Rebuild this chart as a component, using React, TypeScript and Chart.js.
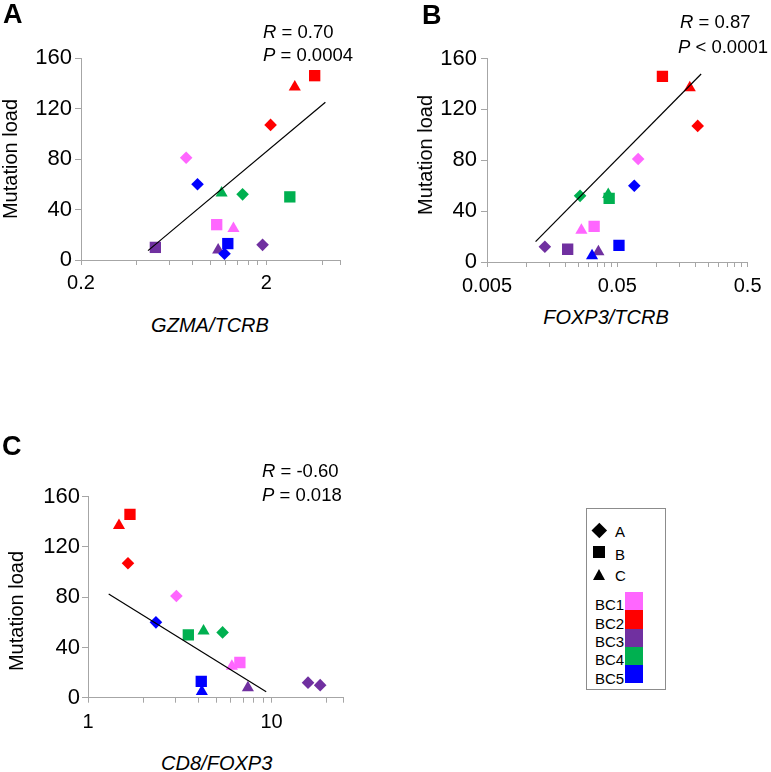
import React, { useEffect, useRef } from 'react';
import { Chart, registerables } from 'chart.js';

Chart.register(...registerables);

// ---------------- DATA ----------------
const groups = ['BC1', 'BC2', 'BC3', 'BC4', 'BC5'];
const subtypes = ['A', 'B', 'C'];
// sample order: BC1-A, BC1-B, BC1-C, BC2-A, ... BC5-C
const sampleGroup = [0, 0, 0, 1, 1, 1, 2, 2, 2, 3, 3, 3, 4, 4, 4];
const sampleSubtype = ['A', 'B', 'C', 'A', 'B', 'C', 'A', 'B', 'C', 'A', 'B', 'C', 'A', 'B', 'C'];
const mutationLoad = [81, 28, 25, 107, 146, 137, 12, 10, 8, 52, 50, 53, 60, 13, 5];

const gzmaTcrb = [0.739, 1.08, 1.33, 2.11, 3.65, 2.85, 1.91, 0.504, 1.1, 1.49, 2.68, 1.148, 0.851, 1.24, 1.19];
const foxp3Tcrb = [0.0723, 0.0332, 0.0265, 0.207, 0.111, 0.18, 0.0139, 0.0208, 0.0358, 0.0259, 0.0433, 0.0426, 0.0675, 0.0515, 0.032];
const cd8Foxp3 = [3.03, 6.72, 6.08, 1.651, 1.693, 1.475, 15.8, 18.4, 7.43, 5.41, 3.52, 4.26, 2.345, 4.14, 4.17];

// symbol category actually drawn for each sample in each panel (as in the figure)
const symbolsA = ['A', 'B', 'C', 'A', 'B', 'C', 'A', 'B', 'C', 'A', 'B', 'C', 'A', 'B', 'A'];
const symbolsB = sampleSubtype;
const symbolsC = ['A', 'B', 'C', 'A', 'B', 'C', 'A', 'A', 'C', 'A', 'B', 'C', 'A', 'B', 'C'];

// trend lines (end points)
const trendAx = [0.46, 4.17];
const trendAy = [7.4, 125];
const trendBx = [0.0118, 0.22];
const trendBy = [16, 147.8];
const trendCx = [1.296, 9.35];
const trendCy = [82.5, 4.8];

// axes
const yTicks = [0, 40, 80, 120, 160];
const xMajorA = [0.2, 2];
const xLabelsA = ['0.2', '2'];
const xRangeA = [0.2, 5];
const xMajorB = [0.005, 0.05, 0.5];
const xLabelsB = ['0.005', '0.05', '0.5'];
const xRangeB = [0.005, 0.5];
const xMajorC = [1, 10];
const xLabelsC = ['1', '10'];
const xRangeC = [1, 24.5];

const xTitles = ['GZMA/TCRB', 'FOXP3/TCRB', 'CD8/FOXP3'];
const yTitle = 'Mutation load';
const panelLetters = ['A', 'B', 'C'];
const rTexts = ['= 0.70', '= 0.87', '= -0.60'];
const pTexts = ['= 0.0004', '< 0.0001', '= 0.018'];

// ---------------- STYLE ----------------
const FONT = '"Liberation Sans", Arial, Helvetica, sans-serif';
const groupColors = ['#FF66FF', '#FF0000', '#7030A0', '#00B050', '#0000FF'];
const styleOf: Record<string, string> = { A: 'rectRot', B: 'rect', C: 'triangle' };
const radiusOf: Record<string, number> = { A: 6.3, B: 8, C: 7 };
const AXIS = '#a6a6a6';

function logTicks(range: number[], majors: number[]) {
  const out: number[] = [];
  for (const m of majors) {
    for (let k = 1; k <= 9; k++) {
      const v = +(m * k).toPrecision(6);
      if (v >= range[0] - 1e-12 && v <= range[1] + 1e-12) out.push(v);
    }
  }
  if (!out.some((v) => Math.abs(v - range[1]) / range[1] < 1e-6)) out.push(range[1]);
  return out;
}

type Panel = {
  x: number[];
  symbols: string[];
  tx: number[];
  ty: number[];
  range: number[];
  majors: number[];
  labels: string[];
  width: number;
  height: number;
  left: number;
  top: number;
  padTop: number;
  padRight: number;
  yWidth: number;
  xHeight: number;
  yPad: number;
  xPad: number;
};

function ScatterPanel({ p }: { p: Panel }) {
  const ref = useRef<HTMLCanvasElement | null>(null);
  useEffect(() => {
    if (!ref.current) return;
    const pts = p.x.map((x, i) => ({ x, y: mutationLoad[i] }));
    const colors = sampleGroup.map((g) => groupColors[g]);
    const tickVals = logTicks(p.range, p.majors);
    const chart = new Chart(ref.current, {
      type: 'scatter',
      data: {
        datasets: [
          {
            data: p.tx.map((x, i) => ({ x, y: p.ty[i] })),
            showLine: true,
            borderColor: '#000',
            borderWidth: 1.2,
            pointRadius: 0,
            fill: false,
          } as any,
          {
            data: pts,
            pointStyle: p.symbols.map((s) => styleOf[s]),
            pointRadius: p.symbols.map((s) => radiusOf[s]),
            pointBackgroundColor: colors,
            pointBorderColor: colors,
            pointBorderWidth: 0,
            backgroundColor: colors,
            borderColor: colors,
            borderWidth: 0,
          } as any,
        ],
      },
      options: {
        animation: false,
        responsive: false,
        maintainAspectRatio: false,
        events: [],
        plugins: { legend: { display: false }, tooltip: { enabled: false } },
        layout: { padding: { left: 0, top: p.padTop, right: p.padRight, bottom: 0 } },
        scales: {
          x: {
            type: 'logarithmic',
            min: p.range[0],
            max: p.range[1],
            afterBuildTicks: (s: any) => {
              s.ticks = tickVals.map((v) => ({ value: v }));
            },
            afterFit: (s: any) => {
              s.height = p.xHeight;
            },
            ticks: {
              autoSkip: false,
              maxRotation: 0,
              minRotation: 0,
              padding: p.xPad,
              color: '#000',
              font: { size: 20, family: FONT, lineHeight: 1 },
              callback: (v: any) => {
                const idx = p.majors.findIndex((m) => Math.abs(m - Number(v)) / m < 1e-6);
                return idx >= 0 ? p.labels[idx] : '';
              },
            },
            grid: { drawOnChartArea: false, drawTicks: true, tickLength: 5, tickColor: AXIS, tickWidth: 1 },
            border: { display: true, color: AXIS, width: 1 },
          },
          y: {
            type: 'linear',
            min: yTicks[0],
            max: yTicks[yTicks.length - 1],
            afterBuildTicks: (s: any) => {
              s.ticks = yTicks.map((v) => ({ value: v }));
            },
            afterFit: (s: any) => {
              s.width = p.yWidth;
            },
            ticks: {
              padding: p.yPad,
              color: '#000',
              font: { size: 22, family: FONT, lineHeight: 1 },
            },
            grid: { drawOnChartArea: false, drawTicks: true, tickLength: 6, tickColor: AXIS, tickWidth: 1 },
            border: { display: true, color: AXIS, width: 1 },
          },
        },
      } as any,
    });
    return () => chart.destroy();
  }, []);
  return (
    <canvas
      ref={ref}
      width={p.width}
      height={p.height}
      style={{ position: 'absolute', left: p.left, top: p.top, width: p.width, height: p.height }}
    />
  );
}

function Txt({ x, y, size, children, italic, bold, center }: any) {
  return (
    <div
      style={{
        position: 'absolute',
        left: x,
        top: y - 0.8465 * size,
        fontSize: size,
        lineHeight: `${size}px`,
        fontFamily: FONT,
        fontStyle: italic ? 'italic' : 'normal',
        fontWeight: bold ? 'bold' : 'normal',
        whiteSpace: 'nowrap',
        color: '#000',
        transform: center ? 'translateX(-50%)' : undefined,
      }}
    >
      {children}
    </div>
  );
}

function VTxt({ cx, cy, size, children }: any) {
  return (
    <div
      style={{
        position: 'absolute',
        left: cx,
        top: cy,
        fontSize: size,
        lineHeight: `${size}px`,
        fontFamily: FONT,
        whiteSpace: 'nowrap',
        color: '#000',
        transform: 'translate(-50%,-50%) rotate(-90deg)',
      }}
    >
      {children}
    </div>
  );
}

const panelA: Panel = {
  x: gzmaTcrb, symbols: symbolsA, tx: trendAx, ty: trendAy, range: xRangeA, majors: xMajorA, labels: xLabelsA,
  left: 0, top: 0, width: 380, height: 300, padTop: 58, padRight: 40, yWidth: 81, xHeight: 40, yPad: 3, xPad: 8,
};
const panelB: Panel = {
  x: foxp3Tcrb, symbols: symbolsB, tx: trendBx, ty: trendBy, range: xRangeB, majors: xMajorB, labels: xLabelsB,
  left: 380, top: 0, width: 391, height: 300, padTop: 58.5, padRight: 18, yWidth: 107, xHeight: 38, yPad: 4, xPad: 9.5,
};
const panelC: Panel = {
  x: cd8Foxp3, symbols: symbolsC, tx: trendCx, ty: trendCy, range: xRangeC, majors: xMajorC, labels: xLabelsC,
  left: 0, top: 390, width: 380, height: 350, padTop: 106.7, padRight: 37, yWidth: 88, xHeight: 42.3, yPad: 2, xPad: 9.5,
};

function Legend() {
  const sw = 18.3;
  return (
    <>
      <div style={{ position: 'absolute', left: 586, top: 508, width: 80, height: 182, border: '1px solid #8c8c8c', boxSizing: 'border-box' }} />
      <div style={{ position: 'absolute', left: 599 - 5.3, top: 530 - 5.3, width: 10.6, height: 10.6, background: '#000', transform: 'rotate(45deg)' }} />
      <div style={{ position: 'absolute', left: 593.3, top: 545.5, width: 11.7, height: 12.8, background: '#000' }} />
      <div style={{ position: 'absolute', left: 592.7, top: 569, width: 0, height: 0, borderLeft: '6.7px solid transparent', borderRight: '6.7px solid transparent', borderBottom: '11.5px solid #000' }} />
      {subtypes.map((s, i) => (
        <Txt key={s} x={615} y={[536.7, 559.3, 580.7][i]} size={15}>{s}</Txt>
      ))}
      {groups.map((g, i) => (
        <React.Fragment key={g}>
          <Txt x={595} y={610 + sw * i} size={15}>{g}</Txt>
          <div style={{ position: 'absolute', left: 625, top: 592 + sw * i, width: 18, height: sw, background: groupColors[i] }} />
        </React.Fragment>
      ))}
    </>
  );
}

export default function App() {
  return (
    <div style={{ position: 'absolute', left: 0, top: 0, width: 771, height: 772, background: '#fff', overflow: 'hidden' }}>
      <ScatterPanel p={panelA} />
      <ScatterPanel p={panelB} />
      <ScatterPanel p={panelC} />

      <Txt x={3} y={23.5} size={27} bold>{panelLetters[0]}</Txt>
      <Txt x={422} y={25} size={27} bold>{panelLetters[1]}</Txt>
      <Txt x={2} y={455.5} size={27} bold>{panelLetters[2]}</Txt>

      <Txt x={263} y={38.5} size={18.5}><i>R</i> {rTexts[0]}</Txt>
      <Txt x={263} y={61.5} size={18.5}><i>P</i> {pTexts[0]}</Txt>
      <Txt x={680} y={28.3} size={18.5}><i>R</i> {rTexts[1]}</Txt>
      <Txt x={678} y={53.3} size={18.5}><i>P</i> {pTexts[1]}</Txt>
      <Txt x={262} y={477.3} size={18.5}><i>R</i> {rTexts[2]}</Txt>
      <Txt x={262} y={501.7} size={18.5}><i>P</i> {pTexts[2]}</Txt>

      <Txt x={210} y={331.7} size={20} italic center>{xTitles[0]}</Txt>
      <Txt x={606} y={324} size={20} italic center>{xTitles[1]}</Txt>
      <Txt x={216.7} y={770} size={20} italic center>{xTitles[2]}</Txt>

      <VTxt cx={9.7} cy={159} size={20}>{yTitle}</VTxt>
      <VTxt cx={424.5} cy={155} size={20}>{yTitle}</VTxt>
      <VTxt cx={16.3} cy={610.8} size={20}>{yTitle}</VTxt>

      <Legend />
    </div>
  );
}
